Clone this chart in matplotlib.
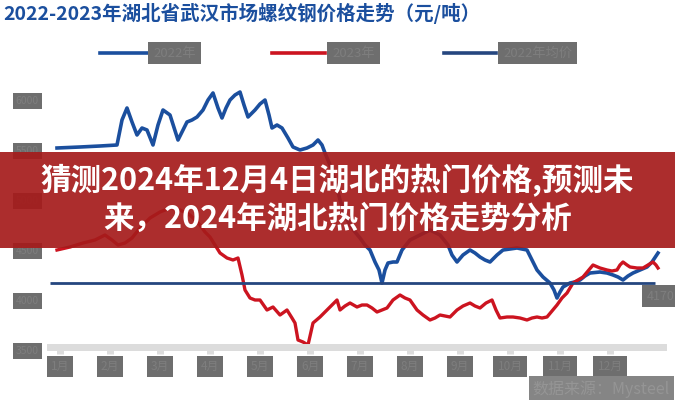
import matplotlib
matplotlib.use("Agg")
import matplotlib.pyplot as plt
from matplotlib.patches import Rectangle
from matplotlib.lines import Line2D

plt.rcParams['font.family'] = ['Noto Sans CJK SC', 'DejaVu Sans']

# 2022 price (blue), month position on x
blue_x = [0.94, 1.40, 1.80, 2.14, 2.24, 2.34, 2.44, 2.54, 2.64, 2.74, 2.86, 2.96, 3.06, 3.20, 3.36, 3.46,
          3.54, 3.64, 3.74, 3.86, 3.96, 4.06, 4.16, 4.24, 4.32, 4.40, 4.50, 4.60, 4.68, 4.76, 4.90, 5.00,
          5.10, 5.18, 5.24, 5.34, 5.44, 5.56, 5.66, 5.80, 5.94, 6.06, 6.16, 6.24, 6.30, 6.40, 6.50, 6.60,
          6.70, 6.80, 6.90, 7.00, 7.10, 7.20, 7.30, 7.38, 7.44, 7.50, 7.56, 7.66, 7.74, 7.84, 8.00, 8.20,
          8.40, 8.60, 8.76, 8.84, 8.94, 9.06, 9.20, 9.30, 9.40, 9.50, 9.60, 9.74, 9.86, 10.00, 10.14, 10.24,
          10.34, 10.44, 10.54, 10.66, 10.80, 10.88, 10.94, 11.00, 11.06, 11.20, 11.30, 11.40, 11.50, 11.60,
          11.80, 11.94, 12.06, 12.16, 12.26, 12.36, 12.46, 12.60, 12.74, 12.84, 12.96]
blue_y = [5520, 5530, 5540, 5550, 5800, 5920, 5780, 5650, 5720, 5700, 5550, 5750, 5900, 5850, 5600, 5700,
          5780, 5800, 5830, 5900, 6000, 6070, 5920, 5820, 5920, 6000, 6050, 6080, 5950, 5830, 5900, 5960,
          6000, 5850, 5720, 5750, 5720, 5620, 5530, 5500, 5520, 5550, 5600, 5550, 5470, 5350, 5200, 5000,
          4850, 4750, 4680, 4620, 4550, 4500, 4380, 4300, 4170, 4300, 4370, 4380, 4380, 4500, 4600, 4650,
          4700, 4650, 4550, 4450, 4380, 4450, 4500, 4470, 4430, 4400, 4380, 4450, 4500, 4510, 4520, 4510,
          4500, 4400, 4300, 4230, 4170, 4100, 4020, 4080, 4130, 4170, 4180, 4200, 4240, 4270,
          4280, 4270, 4250, 4230, 4200, 4240, 4270, 4300, 4330, 4380, 4470]

# 2023 price (red)
red_x = [0.94, 1.20, 1.46, 1.70, 1.90, 2.04, 2.16, 2.30, 2.44, 2.60, 2.80, 3.00, 3.20, 3.40, 3.60, 3.80,
         3.90, 4.00, 4.10, 4.20, 4.34, 4.46, 4.56, 4.64, 4.70, 4.80, 4.90, 5.00, 5.14, 5.26, 5.40, 5.54,
         5.64, 5.70, 5.76, 5.86, 5.96, 6.06, 6.20, 6.30, 6.40, 6.54, 6.60, 6.70, 6.80, 6.94, 7.04, 7.14,
         7.24, 7.34, 7.44, 7.54, 7.66, 7.80, 7.90, 8.00, 8.14, 8.26, 8.40, 8.50, 8.60, 8.70, 8.80, 8.94,
         9.06, 9.20, 9.30, 9.40, 9.52, 9.64, 9.72, 9.80, 9.94, 10.06, 10.20, 10.34, 10.44, 10.54, 10.64,
         10.74, 10.84, 10.94, 11.04, 11.14, 11.20, 11.26, 11.36, 11.46, 11.56, 11.66, 11.80, 11.94, 12.04,
         12.14, 12.20, 12.26, 12.34, 12.40, 12.54, 12.66, 12.76, 12.86, 12.92, 12.96]
red_y = [4500, 4530, 4570, 4600, 4650, 4600, 4550, 4570, 4620, 4720, 4820, 4880, 4920, 4900, 4850, 4750,
         4680, 4630, 4550, 4470, 4420, 4400, 4420, 4250, 4100, 4020, 4000, 4000, 3900, 3930, 3850, 3900,
         3820, 3770, 3600, 3580, 3550, 3770, 3830, 3880, 3930, 4000, 3900, 3940, 3970, 3930, 3950, 3950,
         3920, 3880, 3900, 3920, 4000, 4050, 4020, 4000, 3900, 3850, 3800, 3820, 3850, 3840, 3830, 3900,
         3940, 3970, 3940, 3920, 3970, 4000, 3900, 3820, 3830, 3830, 3820, 3800, 3820, 3830, 3820,
         3830, 3890, 3950, 4020, 4070, 4120, 4170, 4200, 4230, 4290, 4350, 4320, 4300, 4290,
         4300, 4350, 4380, 4350, 4330, 4320, 4320, 4350, 4380, 4350, 4320]

avg_price = 4170
avg_label = "4170"
months = list(range(1, 13))
month_labels = [f"{m}月" for m in months]
y_ticks = [3500, 4000, 4500, 5000, 5500, 6000]

title = "2022-2023年湖北省武汉市场螺纹钢价格走势（元/吨）"
legend_labels = ["2022年", "2023年", "2022年均价"]
source = "数据来源：Mysteel"
banner_1 = "猜测2024年12月4日湖北的热门价格,预测未"
banner_2 = "来，2024年湖北热门价格走势分析"

blue = '#1b4f9e'
red = '#cc1420'
navy = '#25467f'
axis_grey = '#dcdcdc'
block = '#6e6e6e'
block_text = '#7e7e7e'

fig = plt.figure(figsize=(6.75, 4.0), dpi=100)
fig.patch.set_facecolor('white')
ax = fig.add_axes([50 / 675, 50 / 400, 613 / 675, 280 / 400])

ax.plot(blue_x, blue_y, color=blue, lw=2.6, solid_joinstyle='round')
ax.plot(red_x, red_y, color=red, lw=2.4, solid_joinstyle='round')
ax.hlines(avg_price, 0.8, 12.9, color=navy, lw=2.0)
# small value tag at the right edge, below the average line
ax.text(13.02, avg_price - 130, avg_label, fontsize=9, color=block_text, ha='center', va='center',
        clip_on=False, bbox=dict(facecolor=block, edgecolor='none', pad=3.5))

ax.set_xlim(0.8, 13.06)
ax.set_ylim(3500, 6300)
for s in ['top', 'right', 'left']:
    ax.spines[s].set_visible(False)
ax.spines['bottom'].set_color(axis_grey)
ax.spines['bottom'].set_linewidth(5)
ax.spines['bottom'].set_position(('data', 3535))

ax.set_xticks(months)
ax.set_xticklabels(month_labels)
ax.tick_params(axis='x', length=5, width=5, color=axis_grey, pad=4.5, labelsize=8.5, labelcolor=block_text)
ax.set_yticks(y_ticks)
ax.set_yticklabels([f"{v}" for v in y_ticks])
ax.tick_params(axis='y', length=0, pad=8, labelsize=7.5, labelcolor=block_text)
for t in ax.get_xticklabels():
    t.set_bbox(dict(facecolor=block, edgecolor='none', pad=3))
for t in ax.get_yticklabels():
    t.set_bbox(dict(facecolor=block, edgecolor='none', pad=2))

# title and legend
fig.text(3 / 675, 1 - 13 / 400, title, color=blue, fontsize=14, fontweight='bold', va='center', ha='left')
leg_items = [(100, 153, 153, blue), (272, 325, 332, red), (444, 496, 503, navy)]
for (x0, x1, xt, c), lab in zip(leg_items, legend_labels):
    fig.add_artist(Line2D([x0 / 675, x1 / 675], [1 - 53 / 400] * 2, color=c, lw=2.6))
    fig.text(xt / 675, 1 - 53 / 400, lab, fontsize=9.5, color=block_text, va='center', ha='left',
             bbox=dict(facecolor=block, edgecolor='none', pad=3.5))

fig.text(670 / 675, 1 - 389 / 400, source, fontsize=11.5, color='#959595', ha='right', va='center',
         bbox=dict(facecolor='#858585', edgecolor='none', pad=3))

# red banner over the chart
fig.add_artist(Rectangle((0, 152 / 400), 1, 96 / 400, transform=fig.transFigure,
                         facecolor='#a51b1b', edgecolor='none', alpha=0.92, zorder=5))
fig.text(0.5, 1 - 181 / 400, banner_1, color='white', fontsize=22, fontweight='bold',
         ha='center', va='center', zorder=6)
fig.text(0.5, 1 - 219 / 400, banner_2, color='white', fontsize=22, fontweight='bold',
         ha='center', va='center', zorder=6)

fig.savefig('out.png', dpi=100)
